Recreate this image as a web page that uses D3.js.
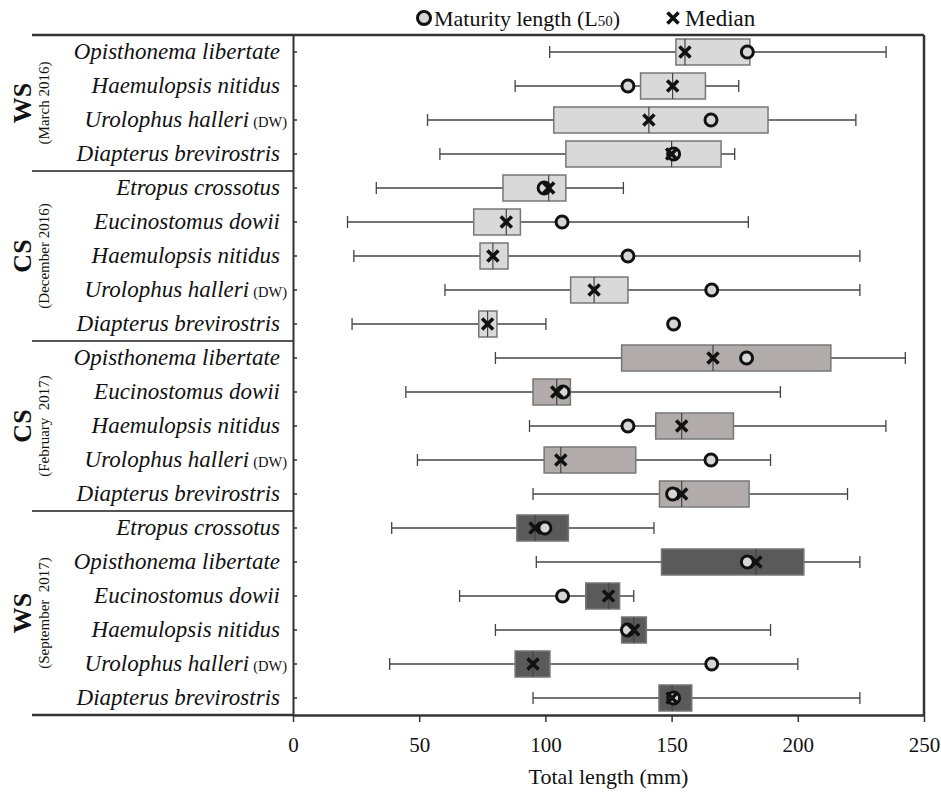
<!DOCTYPE html>
<html><head><meta charset="utf-8">
<script src="https://cdn.jsdelivr.net/npm/d3@7"></script>
<style>body{margin:0;background:#fff}svg{display:block}text{font-family:"Liberation Serif","Times New Roman",serif}</style>
</head><body><div id="chart"></div>
<script>
// ---- data ----
const groupSeason = ["WS", "CS", "CS", "WS"];
const groupPeriod = ["(March 2016)", "(December 2016)", "(February  2017)", "(September  2017)"];
const groupSizes = [4, 5, 5, 6];
const groupFills = ["#d9d9d9", "#d9d9d9", "#b1abab", "#5a5a5a"];
const species = [
  "Opisthonema libertate", "Haemulopsis nitidus", "Urolophus halleri", "Diapterus brevirostris",
  "Etropus crossotus", "Eucinostomus dowii", "Haemulopsis nitidus", "Urolophus halleri", "Diapterus brevirostris",
  "Opisthonema libertate", "Eucinostomus dowii", "Haemulopsis nitidus", "Urolophus halleri", "Diapterus brevirostris",
  "Etropus crossotus", "Opisthonema libertate", "Eucinostomus dowii", "Haemulopsis nitidus", "Urolophus halleri", "Diapterus brevirostris"
];
const discWidth = [false, false, true, false, false, false, false, true, false, false, false, false, true, false, false, false, false, false, true, false];
const whiskerLow = [101.7, 88, 53.3, 58.2, 33, 21.6, 24.1, 60.2, 23.4, 80.2, 44.7, 93.7, 49.3, 95.1, 39.1, 96.4, 66, 80.2, 38.3, 95.1];
const q1 =         [151.7, 137.7, 103.3, 108.1, 83.2, 71.6, 74.1, 110, 73.6, 130.2, 95.1, 143.7, 99.5, 145.2, 88.7, 146, 116, 130.2, 88, 145];
const median =     [155.3, 150.4, 141, 150, 101.3, 84.5, 79.2, 119.3, 77.1, 166.4, 104.5, 154, 106.1, 154, 95.9, 183.4, 125, 135, 95.1, 150.2];
const q3 =         [181, 163.4, 188.2, 169.6, 108.1, 90.1, 85.2, 132.7, 80.8, 213.1, 109.9, 174.5, 135.8, 180.7, 109.1, 202.4, 129.4, 140, 101.8, 158];
const whiskerHigh =[235, 176.6, 223, 175, 130.9, 180.4, 224.6, 224.6, 100.2, 242.6, 193.1, 234.9, 189.2, 219.7, 143, 224.6, 135, 189.2, 200, 224.6];
const l50 =        [180, 132.7, 165.6, 150.8, 99.5, 106.6, 132.7, 165.9, 150.8, 179.7, 107, 132.7, 165.6, 150.4, 99.8, 180, 106.8, 132.5, 165.9, 150.8];
const xTicks = [0, 50, 100, 150, 200, 250];
const xTitle = "Total length (mm)";

// ---- layout ----
const W = 941, H = 795;
const plotL = 293, plotR = 924, plotT = 35, plotB = 715, leftEdge = 32;
const svg = d3.select("#chart").append("svg").attr("width", W).attr("height", H);

const groupOf = [];
groupSizes.forEach((n, g) => { for (let i = 0; i < n; i++) groupOf.push(g); });
const rows = d3.range(species.length);

const x = d3.scaleLinear().domain([0, 250]).range([plotL, plotR]);
const y = d3.scaleBand().domain(rows).range([plotT, plotB]);
const bh = 26;
const cy = i => y(i) + y.bandwidth() / 2;

// frame lines
svg.append("line").attr("x1", leftEdge).attr("x2", plotR).attr("y1", plotT).attr("y2", plotT)
  .attr("stroke", "#333").attr("stroke-width", 2.5);
svg.append("line").attr("x1", plotR).attr("x2", plotR).attr("y1", plotT).attr("y2", plotB)
  .attr("stroke", "#333").attr("stroke-width", 2.5);
svg.append("line").attr("x1", leftEdge).attr("x2", plotL).attr("y1", plotB).attr("y2", plotB)
  .attr("stroke", "#333").attr("stroke-width", 2.5);

// group separators
let acc = 0;
groupSizes.slice(0, -1).forEach(n => {
  acc += n;
  const yy = y(acc);
  svg.append("line").attr("x1", leftEdge).attr("x2", plotL).attr("y1", yy).attr("y2", yy)
    .attr("stroke", "#555").attr("stroke-width", 2);
});

// x axis
const xAxis = svg.append("g").attr("transform", `translate(0,${plotB})`)
  .call(d3.axisBottom(x).tickValues(xTicks).tickSize(7).tickPadding(15).tickSizeOuter(0));
xAxis.select(".domain").attr("stroke", "#333").attr("stroke-width", 2.5);
xAxis.selectAll(".tick line").attr("stroke", "#333").attr("stroke-width", 1.5);
xAxis.selectAll(".tick text").attr("font-size", 21).attr("fill", "#111")
  .attr("font-family", "Liberation Serif, serif");

// y axis (inward ticks)
const yAxis = svg.append("g").attr("transform", `translate(${plotL},0)`)
  .call(d3.axisRight(y).tickSize(4).tickFormat("").tickSizeOuter(0));
yAxis.select(".domain").attr("stroke", "#333").attr("stroke-width", 2);
yAxis.selectAll(".tick line").attr("stroke", "#333").attr("stroke-width", 1.5);

// species labels
const lab = svg.append("g").selectAll("text").data(rows).join("text")
  .attr("x", d => discWidth[d] ? 287 : 280).attr("y", d => cy(d) + 7)
  .attr("text-anchor", "end").attr("font-size", 23).attr("fill", "#111");
lab.append("tspan").attr("font-style", "italic").text(d => species[d]);
lab.filter(d => discWidth[d]).append("tspan").attr("font-size", 14.5).attr("dx", 4).text("(DW)");

// group labels
groupSizes.forEach((n, g) => {
  const start = d3.sum(groupSizes.slice(0, g));
  const mid = (y(start) + y(start + n - 1) + y.bandwidth()) / 2;
  svg.append("text").attr("transform", `translate(31,${mid}) rotate(-90)`)
    .attr("text-anchor", "middle").attr("font-size", 26).attr("font-weight", "bold").attr("fill", "#111")
    .text(groupSeason[g]);
  svg.append("text").attr("transform", `translate(49,${mid}) rotate(-90)`)
    .attr("text-anchor", "middle").attr("font-size", 15).attr("fill", "#111")
    .style("white-space", "pre").text(groupPeriod[g]);
});

// boxes
const g = svg.append("g");
const bx = g.selectAll("g.row").data(rows).join("g").attr("class", "row");
bx.append("line").attr("x1", d => x(whiskerLow[d])).attr("x2", d => x(whiskerHigh[d]))
  .attr("y1", cy).attr("y2", cy).attr("stroke", "#444").attr("stroke-width", 1.3);
bx.append("line").attr("x1", d => x(whiskerLow[d])).attr("x2", d => x(whiskerLow[d]))
  .attr("y1", d => cy(d) - 6).attr("y2", d => cy(d) + 6).attr("stroke", "#444").attr("stroke-width", 1.3);
bx.append("line").attr("x1", d => x(whiskerHigh[d])).attr("x2", d => x(whiskerHigh[d]))
  .attr("y1", d => cy(d) - 6).attr("y2", d => cy(d) + 6).attr("stroke", "#444").attr("stroke-width", 1.3);
bx.append("rect").attr("x", d => x(q1[d])).attr("width", d => x(q3[d]) - x(q1[d]))
  .attr("y", d => cy(d) - bh / 2).attr("height", bh)
  .attr("fill", d => groupFills[groupOf[d]]).attr("stroke", "#777").attr("stroke-width", 1.5);
bx.append("line").attr("x1", d => x(median[d])).attr("x2", d => x(median[d]))
  .attr("y1", d => cy(d) - bh / 2).attr("y2", d => cy(d) + bh / 2).attr("stroke", "#444").attr("stroke-width", 1.2);

// L50 circles
bx.append("circle").attr("cx", d => x(l50[d])).attr("cy", cy).attr("r", 6)
  .attr("fill", "#d6d6d6").attr("stroke", "#111").attr("stroke-width", 3);

// median crosses
const cross = (sel, s) => {
  sel.append("path").attr("d", `M${-s},${-s}L${s},${s}M${-s},${s}L${s},${-s}`)
    .attr("stroke", "#111").attr("stroke-width", 3.6).attr("fill", "none");
};
bx.append("g").attr("transform", d => `translate(${x(median[d])},${cy(d)})`).each(function () { cross(d3.select(this), 5.5); });

// legend
const lg = svg.append("g");
lg.append("circle").attr("cx", 424).attr("cy", 18).attr("r", 6.5).attr("fill", "#d6d6d6").attr("stroke", "#111").attr("stroke-width", 3);
const lt = lg.append("text").attr("x", 434).attr("y", 26).attr("font-size", 22).attr("fill", "#111");
lt.append("tspan").text("Maturity length (L");
lt.append("tspan").attr("font-size", 15).text("50");
lt.append("tspan").text(")");
lg.append("g").attr("transform", "translate(673,18)").call(s => cross(s, 5.5));
lg.append("text").attr("x", 685).attr("y", 26).attr("font-size", 23).attr("fill", "#111").text("Median");

// x title
svg.append("text").attr("x", (plotL + plotR) / 2).attr("y", 784).attr("text-anchor", "middle")
  .attr("font-size", 22).attr("fill", "#111").text(xTitle);
</script></body></html>
